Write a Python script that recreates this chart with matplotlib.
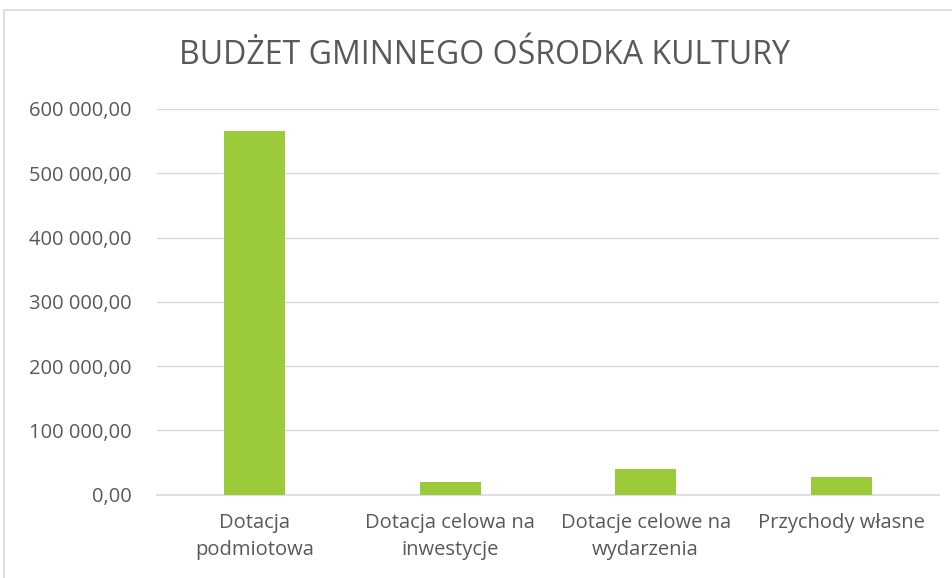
import matplotlib.pyplot as plt
from matplotlib.patches import Rectangle
from matplotlib.ticker import FuncFormatter

categories = ['Dotacja\npodmiotowa', 'Dotacja celowa na\ninwestycje',
              'Dotacje celowe na\nwydarzenia', 'Przychody własne']
values = [565000, 20000, 40000, 28000]
yticks = [0, 100000, 200000, 300000, 400000, 500000, 600000]

plt.rcParams['font.family'] = ['Open Sans', 'DejaVu Sans']
txt = '#595959'
grid = '#d9d9d9'

fig = plt.figure(figsize=(9.53, 5.78), dpi=100)
ax = fig.add_axes([156.7 / 953, 1 - 494.7 / 578, (939 - 156.7) / 953, (494.7 - 109) / 578])

x = range(len(categories))
ax.bar(x, values, width=0.312, color='#9bca3b', zorder=3)
ax.set_xlim(-0.5, len(categories) - 0.5)
ax.set_ylim(0, 600000)
ax.set_yticks(yticks)

def fmt(v, pos):
    s = f'{v:,.2f}'.replace(',', ' ').replace('.', ',')
    return s

ax.yaxis.set_major_formatter(FuncFormatter(fmt))
ax.set_xticks(list(x))
ax.set_xticklabels(categories, color=txt, fontsize=14.5, linespacing=1.45)
ax.tick_params(axis='y', colors=txt, labelsize=14.5, length=0, pad=18)
ax.tick_params(axis='x', length=0, pad=13)
ax.grid(axis='y', color=grid, linewidth=1, zorder=0)
for s in ['top', 'right', 'left']:
    ax.spines[s].set_visible(False)
ax.spines['bottom'].set_color(grid)
ax.spines['bottom'].set_linewidth(1.2)

fig.text(0.5 + 8 / 953, 1 - 55 / 578, 'BUDŻET GMINNEGO OŚRODKA KULTURY', ha='center', va='center',
         color=txt, fontsize=23)

# chart area border (left and top visible)
fig.patches.append(Rectangle((4 / 953, -0.1), 1.2, 1 - 10 / 578 + 0.1,
                             transform=fig.transFigure, fill=False,
                             edgecolor=grid, linewidth=1.2))

fig.savefig('out.png', dpi=100)
